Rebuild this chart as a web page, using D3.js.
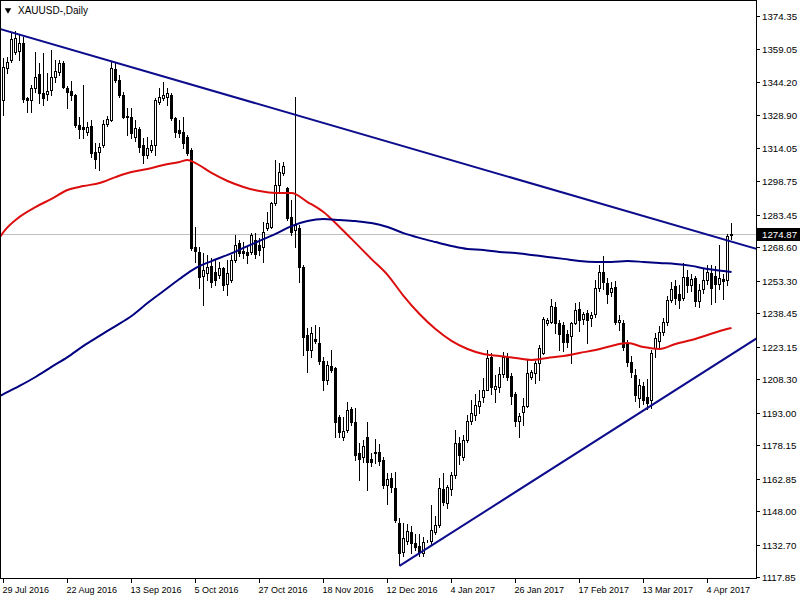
<!DOCTYPE html>
<html><head><meta charset="utf-8">
<script src="https://cdn.jsdelivr.net/npm/d3@7"></script>
<style>
html,body{margin:0;padding:0;background:#fff;}
svg{display:block;}
text{font-family:"Liberation Sans",Arial,sans-serif;fill:#000;}
</style>
</head><body>
<svg id="chart" width="800" height="600"></svg>
<script>
const chartTitle = "XAUUSD-,Daily";

const openP = [1335.9,1350.6,1354.2,1357.9,1358.3,1362.0,1336.9,1336.0,1341.4,1347.8,1339.1,1338.7,1340.5,1346.5,1348.7,1352.9,1341.4,1340.0,1338.2,1324.5,1323.6,1321.3,1324.1,1312.2,1312.2,1315.4,1325.0,1326.8,1350.1,1345.1,1338.2,1328.6,1328.2,1319.0,1322.7,1315.4,1310.8,1313.1,1315.4,1335.0,1336.9,1337.3,1338.2,1327.7,1322.2,1321.3,1319.0,1313.1,1268.7,1266.5,1255.5,1256.8,1260.1,1257.3,1256.0,1259.1,1251.8,1253.6,1262.8,1270.5,1266.9,1266.5,1266.5,1271.9,1269.6,1268.7,1277.4,1277.9,1288.8,1297.1,1302.6,1295.7,1282.4,1276.5,1277.4,1259.6,1228.5,1221.6,1226.7,1224.9,1216.6,1207.9,1214.3,1213.4,1191.0,1181.8,1185.0,1194.7,1188.7,1174.5,1172.7,1181.8,1171.8,1175.0,1175.0,1171.3,1159.9,1163.1,1158.5,1142.5,1129.3,1134.4,1138.4,1133.4,1132.0,1128.8,1134.3,1134.3,1138.4,1141.6,1158.1,1151.7,1158.1,1164.5,1179.1,1172.7,1180.5,1189.2,1191.9,1196.0,1200.1,1203.3,1218.4,1203.8,1204.7,1210.7,1218.4,1209.8,1201.5,1189.2,1193.3,1196.0,1209.3,1211.1,1215.7,1220.2,1234.0,1234.4,1241.3,1234.0,1233.0,1229.0,1228.1,1234.0,1240.4,1235.8,1238.5,1236.2,1238.1,1250.0,1257.3,1252.3,1248.2,1250.5,1234.4,1234.0,1224.8,1216.1,1210.2,1199.7,1205.2,1200.1,1198.8,1222.5,1225.8,1229.9,1234.4,1244.5,1250.9,1247.3,1245.4,1255.0,1251.4,1254.6,1244.1,1249.5,1253.6,1256.8,1255.5,1251.8,1254.1,1253.6,1274.2];
const highP = [1355.1,1355.6,1367.0,1367.5,1365.7,1364.7,1337.5,1342.8,1357.9,1352.9,1357.4,1348.3,1358.8,1354.2,1354.2,1353.8,1342.3,1344.6,1338.7,1328.2,1342.8,1325.9,1326.8,1316.3,1316.3,1326.8,1328.6,1353.3,1353.3,1347.4,1339.6,1332.3,1332.3,1326.8,1323.6,1318.6,1319.0,1317.6,1336.9,1341.4,1344.2,1341.4,1339.1,1328.2,1326.8,1328.2,1320.0,1314.0,1277.9,1268.7,1266.0,1265.1,1263.7,1262.8,1261.9,1259.6,1262.8,1265.1,1274.2,1271.9,1271.0,1268.7,1275.1,1275.1,1272.8,1280.1,1284.7,1289.3,1308.5,1307.1,1307.6,1296.2,1290.2,1337.3,1278.8,1260.5,1231.7,1232.1,1233.0,1232.1,1218.4,1216.6,1221.6,1213.9,1191.9,1191.0,1197.9,1195.6,1195.1,1179.1,1180.5,1188.7,1174.5,1180.9,1178.6,1172.7,1165.4,1165.4,1165.8,1144.8,1142.5,1142.1,1141.1,1137.5,1137.5,1136.2,1134.8,1150.8,1145.7,1163.1,1165.4,1160.0,1165.8,1185.0,1181.8,1182.7,1191.9,1198.8,1201.5,1203.3,1208.8,1221.6,1220.2,1210.2,1213.9,1220.7,1220.2,1211.1,1202.4,1192.8,1199.7,1217.0,1212.5,1216.6,1223.9,1236.7,1236.2,1245.0,1243.6,1235.3,1234.4,1230.8,1234.4,1243.2,1243.6,1239.0,1239.9,1239.0,1253.6,1260.5,1264.6,1254.6,1252.7,1253.2,1237.6,1235.3,1226.2,1218.9,1213.0,1208.4,1207.0,1208.4,1221.6,1229.4,1232.6,1236.2,1246.3,1252.7,1253.6,1251.4,1261.4,1258.2,1256.4,1255.5,1251.8,1258.7,1260.5,1260.5,1260.0,1269.6,1256.4,1274.6,1279.7];
const lowP = [1329.1,1348.3,1353.3,1357.0,1354.2,1335.0,1330.5,1330.5,1339.6,1334.6,1333.7,1336.0,1338.2,1344.2,1347.4,1341.4,1332.3,1336.0,1323.6,1318.6,1318.6,1320.0,1309.9,1304.8,1303.9,1314.5,1324.1,1326.3,1344.2,1337.3,1327.7,1320.0,1318.6,1317.2,1312.2,1307.1,1309.4,1312.2,1310.8,1334.1,1336.0,1333.7,1326.8,1319.0,1319.0,1314.0,1310.8,1267.4,1261.9,1250.0,1242.2,1253.6,1250.5,1251.4,1254.6,1249.1,1246.8,1252.7,1261.9,1264.6,1263.7,1261.4,1265.5,1263.7,1265.1,1261.9,1276.5,1277.4,1287.9,1293.9,1301.7,1281.1,1274.2,1268.7,1252.7,1219.4,1211.6,1218.4,1224.9,1215.2,1203.3,1206.1,1211.6,1181.8,1181.8,1180.5,1184.1,1187.3,1171.3,1162.0,1170.4,1157.6,1168.6,1170.0,1169.1,1158.5,1151.2,1156.7,1143.0,1123.3,1127.3,1133.0,1128.8,1130.2,1127.5,1127.5,1133.9,1133.0,1137.5,1140.7,1150.8,1149.5,1155.3,1163.1,1169.5,1171.3,1179.6,1187.8,1189.6,1192.8,1197.9,1203.3,1201.5,1197.9,1202.4,1209.3,1207.9,1196.9,1186.9,1181.8,1187.3,1195.6,1208.4,1206.5,1207.9,1219.8,1233.0,1233.9,1229.4,1221.6,1221.1,1223.0,1215.7,1233.5,1230.3,1233.5,1224.8,1232.6,1236.7,1248.6,1249.5,1243.2,1246.4,1233.5,1230.8,1221.6,1214.3,1209.3,1198.3,1195.6,1196.9,1194.6,1195.1,1218.4,1222.1,1228.5,1233.0,1243.6,1242.7,1240.9,1244.5,1248.2,1248.6,1241.8,1241.3,1247.7,1251.8,1242.7,1243.6,1249.5,1245.0,1251.4,1272.4];
const closeP = [1351.0,1353.3,1363.8,1364.3,1362.0,1336.4,1336.0,1341.4,1346.5,1339.1,1336.9,1340.1,1346.5,1349.2,1352.9,1341.9,1339.6,1338.2,1324.5,1322.7,1322.7,1323.6,1311.7,1309.0,1314.5,1325.0,1327.3,1350.6,1345.1,1338.2,1328.2,1328.2,1320.8,1323.2,1314.5,1310.8,1314.0,1315.4,1336.0,1337.3,1338.2,1339.1,1327.7,1321.3,1320.8,1316.3,1311.7,1268.3,1266.9,1255.0,1258.2,1259.6,1252.7,1253.6,1259.1,1251.4,1256.8,1262.8,1269.6,1266.0,1266.0,1265.1,1274.2,1265.5,1267.4,1275.6,1279.7,1288.8,1297.1,1303.0,1305.8,1282.0,1275.6,1278.8,1259.6,1227.6,1221.6,1229.4,1225.8,1216.6,1207.9,1214.8,1212.5,1188.7,1184.1,1184.6,1194.2,1188.7,1173.6,1171.8,1177.7,1170.4,1170.4,1174.5,1170.9,1159.9,1162.7,1159.0,1144.0,1128.8,1135.7,1138.9,1133.4,1131.6,1129.3,1133.9,1134.4,1139.3,1141.6,1158.5,1152.1,1159.0,1164.5,1179.1,1173.6,1180.5,1189.2,1192.8,1196.5,1198.3,1203.3,1218.0,1204.7,1205.2,1210.7,1218.4,1209.3,1200.6,1189.2,1191.5,1196.0,1211.1,1211.6,1215.7,1222.5,1235.8,1235.3,1241.8,1234.0,1229.0,1225.3,1225.3,1234.0,1239.9,1235.3,1238.1,1235.3,1237.6,1250.0,1257.3,1252.7,1247.3,1250.0,1234.4,1235.3,1223.0,1216.1,1211.6,1201.1,1205.6,1198.8,1197.4,1220.2,1227.1,1229.9,1234.4,1244.5,1249.5,1245.4,1244.5,1255.0,1251.4,1254.1,1244.1,1249.1,1253.6,1257.3,1250.0,1251.8,1254.6,1253.2,1273.7,1274.87];

const redMaIdx = [-1,0,4,8,12,16,20,24,28,32,36,40,44,46,48,52,56,60,64,68,72,76,80,84,88,92,96,100,104,108,112,116,120,124,128,132,136,140,144,148,152,156,160,164,168,172,176,180,182];
const redMaVals = [1272.9,1275.6,1282.5,1287.0,1290.7,1294.8,1296.6,1298.0,1300.7,1303.0,1304.4,1306.2,1307.6,1308.5,1307.1,1302.6,1298.9,1296.2,1294.3,1293.4,1293.4,1289.3,1284.7,1277.9,1270.6,1263.2,1256.0,1246.4,1238.1,1231.2,1225.8,1222.1,1219.8,1218.9,1218.0,1217.1,1218.0,1218.9,1220.3,1221.6,1223.5,1224.8,1223.0,1222.1,1224.4,1226.2,1228.5,1230.8,1231.7];
const navyMaIdx = [-1,0,4,8,12,16,20,24,28,32,36,40,44,48,52,56,60,64,68,72,76,80,84,88,92,96,100,104,108,112,116,120,124,128,132,136,140,144,148,152,156,160,164,168,172,176,180,182];
const navyMaVals = [1200.6,1201.5,1205.2,1209.3,1213.9,1218.4,1223.5,1228.1,1232.6,1237.2,1243.1,1248.6,1254.1,1259.1,1262.3,1265.1,1268.3,1271.5,1274.7,1278.3,1280.6,1281.5,1281.1,1280.6,1279.7,1277.9,1275.1,1272.9,1271.0,1269.2,1267.8,1267.4,1266.5,1266.0,1265.1,1264.2,1263.3,1262.3,1261.9,1261.9,1262.3,1261.9,1261.4,1261.0,1260.1,1258.7,1257.8,1257.3];

const trendDownIdx = [-1, 189];
const trendDownVals = [1368.5, 1267.5];
const trendUpIdx = [99, 189];
const trendUpVals = [1122.9, 1227.8];

const priceTicks = [1374.35,1359.05,1344.20,1328.90,1314.05,1298.75,1283.45,1268.60,1253.30,1238.45,1223.15,1208.30,1193.00,1178.15,1162.85,1148.00,1132.70,1117.85];
const dateTickIdx = [0,16,32,48,64,80,96,112,128,144,160,176];
const dateTickLabels = ["29 Jul 2016","22 Aug 2016","13 Sep 2016","5 Oct 2016","27 Oct 2016","18 Nov 2016","12 Dec 2016","4 Jan 2017","26 Jan 2017","17 Feb 2017","13 Mar 2017","4 Apr 2017"];
const lastPrice = 1274.87;

const W = 800, H = 600;
const plotL = 0, plotR = 756, plotT = 0, plotB = 578;

const svg = d3.select("#chart");
const x = d3.scaleLinear().domain([0, 182]).range([3.5, 731.5]);
const y = d3.scaleLinear().domain([1117.85, 1374.35]).range([577, 16]);
const py = v => Math.round(y(v)) + 0.5;

svg.append("rect").attr("width", W).attr("height", H).attr("fill", "#fff");

svg.append("defs").append("clipPath").attr("id", "plotclip")
  .append("rect").attr("x", plotL + 1).attr("y", plotT + 1)
  .attr("width", plotR - plotL - 1).attr("height", plotB - plotT - 1);

const plot = svg.append("g").attr("clip-path", "url(#plotclip)");

// last price line
plot.append("line")
  .attr("x1", plotL).attr("x2", plotR)
  .attr("y1", py(lastPrice)).attr("y2", py(lastPrice))
  .attr("stroke", "#c0c0c0").attr("stroke-width", 1)
  .attr("shape-rendering", "crispEdges");

// candles
const bars = d3.range(openP.length).map(i => ({i, o: openP[i], h: highP[i], l: lowP[i], c: closeP[i]}));
const cg = plot.append("g").attr("shape-rendering", "crispEdges");
cg.selectAll("line.wick").data(bars).join("line").attr("class", "wick")
  .attr("x1", d => x(d.i)).attr("x2", d => x(d.i))
  .attr("y1", d => Math.round(y(d.h))).attr("y2", d => Math.round(y(d.l)) + 1)
  .attr("stroke", "#000").attr("stroke-width", 1);
cg.selectAll("rect.body").data(bars).join("rect").attr("class", "body")
  .attr("x", d => x(d.i) - 1)
  .attr("y", d => py(Math.max(d.o, d.c)))
  .attr("width", 2)
  .attr("height", d => Math.max(0, Math.round(y(Math.min(d.o, d.c))) - Math.round(y(Math.max(d.o, d.c)))))
  .attr("fill", d => d.c >= d.o ? "#fff" : "#000")
  .attr("stroke", "#000").attr("stroke-width", 1);

// moving averages
const lineGen = d3.line().x(d => x(d[0])).y(d => y(d[1])).curve(d3.curveMonotoneX);
plot.append("path").datum(redMaIdx.map((k, j) => [k, redMaVals[j]]))
  .attr("d", lineGen).attr("fill", "none").attr("stroke", "#dc0d0d").attr("stroke-width", 2);
plot.append("path").datum(navyMaIdx.map((k, j) => [k, navyMaVals[j]]))
  .attr("d", lineGen).attr("fill", "none").attr("stroke", "#000080").attr("stroke-width", 2);

// trend lines
const straight = d3.line().x(d => x(d[0])).y(d => y(d[1]));
plot.append("path").datum(trendDownIdx.map((k, j) => [k, trendDownVals[j]]))
  .attr("d", straight).attr("fill", "none").attr("stroke", "#0c0c8c").attr("stroke-width", 2);
plot.append("path").datum(trendUpIdx.map((k, j) => [k, trendUpVals[j]]))
  .attr("d", straight).attr("fill", "none").attr("stroke", "#0c0c8c").attr("stroke-width", 2);

// frame
svg.append("rect").attr("x", plotL + 0.5).attr("y", plotT + 0.5)
  .attr("width", plotR - plotL).attr("height", plotB - plotT)
  .attr("fill", "none").attr("stroke", "#000").attr("stroke-width", 1)
  .attr("shape-rendering", "crispEdges");

// price axis
const pa = svg.append("g");
pa.selectAll("line").data(priceTicks).join("line")
  .attr("x1", plotR + 1).attr("x2", plotR + 4)
  .attr("y1", d => py(d)).attr("y2", d => py(d))
  .attr("stroke", "#000").attr("shape-rendering", "crispEdges");
pa.selectAll("text").data(priceTicks).join("text")
  .attr("x", plotR + 6).attr("y", d => py(d) + 3.5)
  .attr("font-size", "9.7px")
  .text(d => d.toFixed(2));

// last price tag
const ly = py(lastPrice);
svg.append("rect").attr("x", plotR + 1).attr("y", ly - 6.5).attr("width", W - plotR - 1).attr("height", 13)
  .attr("fill", "#000");
svg.append("text").attr("x", plotR + 6).attr("y", ly + 3.5).attr("font-size", "9.7px")
  .style("fill", "#fff").text(lastPrice.toFixed(2));

// date axis
const da = svg.append("g");
da.selectAll("line").data(dateTickIdx).join("line")
  .attr("x1", d => x(d)).attr("x2", d => x(d))
  .attr("y1", plotB + 1).attr("y2", plotB + 5)
  .attr("stroke", "#000").attr("shape-rendering", "crispEdges");
da.selectAll("text").data(dateTickIdx).join("text")
  .attr("x", d => x(d) - 1).attr("y", plotB + 15)
  .attr("font-size", "9px")
  .text((d, j) => dateTickLabels[j]);

// title
svg.append("path").attr("d", d3.symbol().type(d3.symbolTriangle).size(18)())
  .attr("transform", "translate(8,10) rotate(180)").attr("fill", "#000");
svg.append("text").attr("x", 18).attr("y", 14).attr("font-size", "10px").text(chartTitle);
</script>
</body></html>
